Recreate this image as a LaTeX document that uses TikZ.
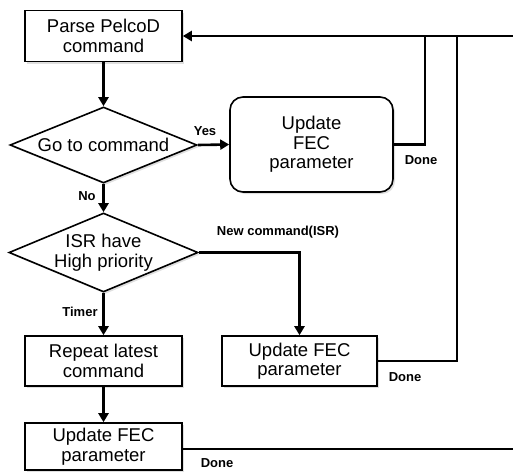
\documentclass[tikz,border=0pt]{standalone}
\usepackage{fontspec}
\setmainfont{Liberation Sans}
\usetikzlibrary{shapes.geometric,arrows.meta,shadows,calc}
\begin{document}
\begin{tikzpicture}[x=1pt,y=-1pt,
  txt/.style={font=\fontsize{18.5}{19.5}\selectfont, align=center, inner sep=0pt},
  shad/.style={drop shadow={opacity=0.25, shadow xshift=2pt, shadow yshift=-2pt}},
  procbox/.style={txt, draw, line width=1.6pt, fill=white, shad},
  roundbox/.style={procbox, rounded corners=13pt},
  decision/.style={txt, diamond, aspect=2.46, draw, line width=1.6pt, fill=white, shad},
  conn/.style={line width=2.6pt},
  arr/.style={conn, -{Triangle[length=9pt,width=10pt]}},
  lbl/.style={font=\bfseries\fontsize{13}{14}\selectfont, inner sep=0pt}
]
\useasboundingbox (0,0) rectangle (513,471);

\node[procbox, minimum width=157pt, minimum height=51pt] (box1) at (103.5,36) {Parse PelcoD\\command};
\node[decision, minimum width=187pt, minimum height=76pt] (dia1) at (103.5,145) {Go to command};
\node[roundbox, minimum width=163pt, minimum height=95pt] (rbox) at (311.5,144.5) {Update\\FEC\\parameter};
\node[decision, minimum width=187pt, minimum height=79pt] (dia2) at (103.5,252.5) {ISR have\\High priority};
\node[procbox, minimum width=157pt, minimum height=50pt] (box2) at (103.5,361) {Repeat latest\\command};
\node[procbox, minimum width=155pt, minimum height=50pt] (box3) at (299.5,361) {Update FEC\\parameter};
\node[procbox, minimum width=157pt, minimum height=47pt] (box4) at (103.5,446.5) {Update FEC\\parameter};

\coordinate (tr) at (513,36);
\coordinate (j1) at (425,36);
\coordinate (j2) at (457,36);
\coordinate (br) at (513,449);

\draw[arr] (box1.south) -- (dia1.north);
\draw[arr] (dia1.east) -- (rbox.west);
\draw[arr] (dia1.south) -- (dia2.north);
\draw[arr] (dia2.south) -- (box2.north);
\draw[arr] (box2.south) -- (box4.north);
\draw[arr] (dia2.east) -| (box3.north);
\draw[conn] (rbox.east) -| (j1);
\draw[conn] (box3.east) -| (j2);
\draw[arr] (tr) -- (box1.east);
\draw[conn] (box4.east |- br) -- (br);

\node[lbl] (lyes) at (205,131) {Yes};
\node[lbl] (ldone1) at (421,160) {Done};
\node[lbl] (lno) at (87,196) {No};
\node[lbl] (lnew) at (278,232) {New command(ISR)};
\node[lbl] (ltimer) at (80,312) {Timer};
\node[lbl] (ldone2) at (405,377) {Done};
\node[lbl] (ldone3) at (217,463) {Done};
\end{tikzpicture}
\end{document}
